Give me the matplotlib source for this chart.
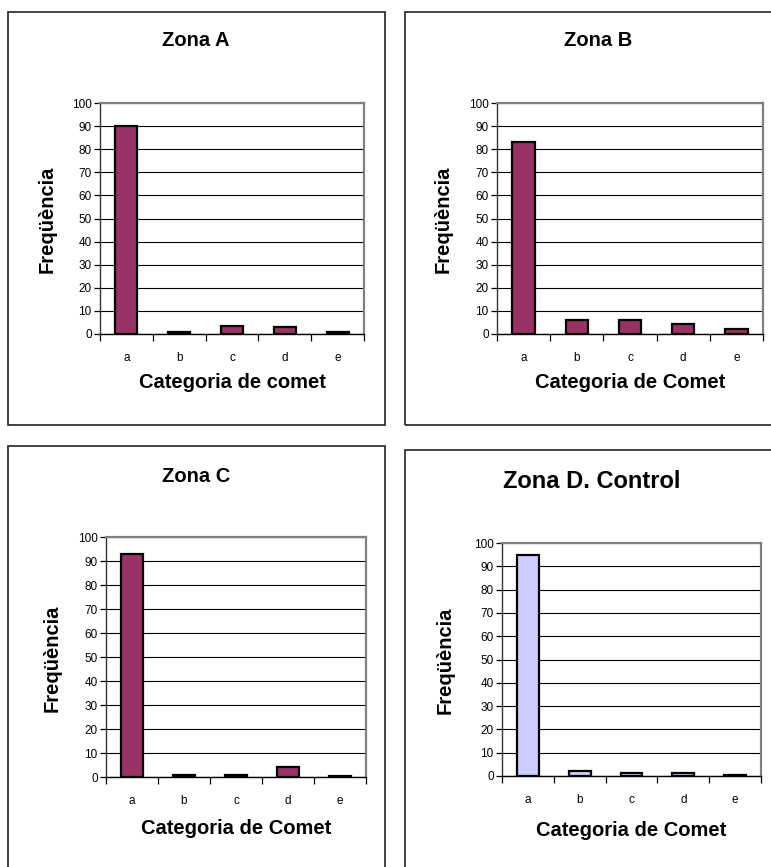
import matplotlib.pyplot as plt
from matplotlib.patches import Rectangle

plt.rcParams['font.family'] = ['Liberation Sans', 'DejaVu Sans']

W, H = 771, 867

categories = ['a', 'b', 'c', 'd', 'e']
titles = ['Zona A', 'Zona B', 'Zona C', 'Zona D. Control']
xlabels = ['Categoria de comet', 'Categoria de Comet', 'Categoria de Comet', 'Categoria de Comet']
ylabel = 'Freqüència'

zona_a = [90, 1, 3.5, 3, 1]
zona_b = [83, 6, 6, 4.5, 2]
zona_c = [93, 1, 1, 4, 0.5]
zona_d = [95, 2, 1.5, 1.2, 0.3]
series = [zona_a, zona_b, zona_c, zona_d]
bar_colors = ['#993366', '#993366', '#993366', '#CCCCFF']

# layout in pixels: box (x0, y0, x1, y1), axes (x0, y0, x1, y1), title centre, ylabel x, xlabel y
boxes = [(8, 12, 385, 425), (405, 12, 790, 425), (8, 446, 385, 890), (405, 450, 790, 890)]
axes_px = [(100, 103, 364, 334), (497, 103, 763, 334), (106, 537, 366, 777), (502, 543, 761, 776)]
title_pos = [(196, 40), (598, 40), (196, 477), (592, 481)]
title_size = [14.5, 14.5, 14.5, 17]
ylab_x = [47, 443, 52, 445]
xlab_y = [383, 383, 828, 830]


def fx(px):
    return px / W


def fy(py):
    return 1 - py / H


fig = plt.figure(figsize=(W / 100, H / 100), dpi=100)

for i in range(4):
    bx0, by0, bx1, by1 = boxes[i]
    fig.patches.append(Rectangle((fx(bx0), fy(by1)), fx(bx1 - bx0), (by1 - by0) / H,
                                 transform=fig.transFigure, fill=False,
                                 edgecolor='#222222', linewidth=1.2))

    ax0, ay0, ax1, ay1 = axes_px[i]
    ax = fig.add_axes([fx(ax0), fy(ay1), fx(ax1 - ax0), (ay1 - ay0) / H])
    x = range(len(categories))
    ax.bar(x, series[i], width=0.42, color=bar_colors[i], edgecolor='black',
           linewidth=1.6, zorder=3)
    ax.set_xlim(-0.5, 4.5)
    ax.set_ylim(0, 100)
    ax.set_yticks(range(0, 101, 10))
    ax.yaxis.grid(True, color='black', linewidth=0.8, zorder=0)
    ax.set_axisbelow(True)
    ax.set_xticks(list(x))
    ax.set_xticklabels(categories)
    ax.set_xticks([k + 0.5 for k in range(-1, 5)], minor=True)
    ax.tick_params(axis='x', which='major', length=0, pad=13, labelsize=8.5)
    ax.tick_params(axis='x', which='minor', length=5, width=0.9, direction='out')
    ax.tick_params(axis='y', length=4, width=0.9, labelsize=8.5, pad=2)
    for s in ['top', 'right']:
        ax.spines[s].set_color('#808080')
        ax.spines[s].set_linewidth(1.6)
    ax.spines['left'].set_color('#333333')
    ax.spines['left'].set_linewidth(1.0)
    ax.spines['bottom'].set_color('black')
    ax.spines['bottom'].set_linewidth(1.0)

    tx, ty = title_pos[i]
    fig.text(fx(tx), fy(ty), titles[i], ha='center', va='center',
             fontsize=title_size[i], fontweight='bold')
    fig.text(fx(ylab_x[i]), fy((ay0 + ay1) / 2 + 1), ylabel, rotation=90,
             ha='center', va='center', fontsize=14.5, fontweight='bold')
    fig.text(fx((ax0 + ax1) / 2), fy(xlab_y[i]), xlabels[i], ha='center',
             va='center', fontsize=14.5, fontweight='bold')

fig.savefig('out.png', dpi=100)
